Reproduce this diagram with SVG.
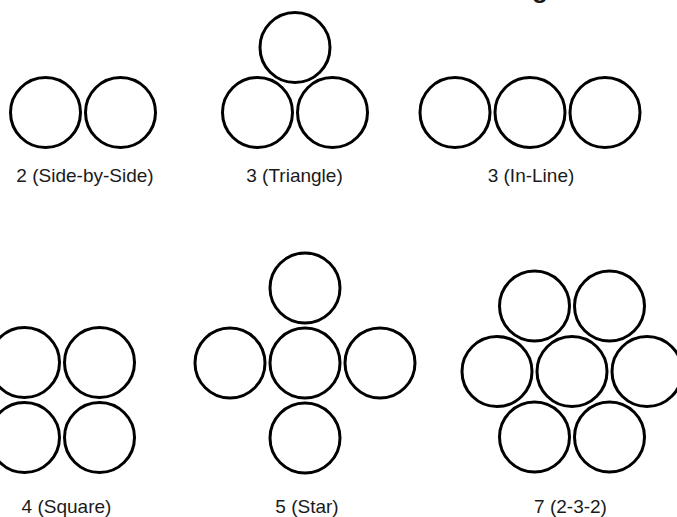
<svg xmlns="http://www.w3.org/2000/svg" width="677" height="517" viewBox="0 0 677 517">
  <style>
    .ring { fill: none; stroke: #000; stroke-width: 3; }
    .label { font-family: "Liberation Sans", Arial, Helvetica, sans-serif; font-size: 19px; fill: #1a1a1a; text-anchor: middle; }
    .title { font-family: "Liberation Sans", Arial, Helvetica, sans-serif; font-size: 26px; font-weight: bold; fill: #1a1a1a; }
  </style>
  <defs>
    <circle id="c" r="35" class="ring"/>
  </defs>
  <rect width="677" height="517" fill="#fff"/>

  <!-- title, mostly above the top edge -->
  <text class="title" x="532" y="-2">g</text>

  <!-- 2 side-by-side -->
  <g id="side-by-side">
    <use href="#c" x="45.5" y="112.5"/>
    <use href="#c" x="120.5" y="112.5"/>
    <text class="label" x="85" y="181.5">2 (Side-by-Side)</text>
  </g>

  <!-- 3 triangle -->
  <g id="triangle">
    <use href="#c" x="295" y="47.5"/>
    <use href="#c" x="257.5" y="112.5"/>
    <use href="#c" x="332.5" y="112.5"/>
    <text class="label" x="294.5" y="181.5">3 (Triangle)</text>
  </g>

  <!-- 3 in-line -->
  <g id="in-line">
    <use href="#c" x="455" y="112.5"/>
    <use href="#c" x="530" y="112.5"/>
    <use href="#c" x="605" y="112.5"/>
    <text class="label" x="531" y="181.5">3 (In-Line)</text>
  </g>

  <!-- 4 square -->
  <g id="square">
    <use href="#c" x="24.5" y="362.5"/>
    <use href="#c" x="99.5" y="362.5"/>
    <use href="#c" x="24.5" y="437.5"/>
    <use href="#c" x="99.5" y="437.5"/>
    <text class="label" x="66.5" y="513">4 (Square)</text>
  </g>

  <!-- 5 star -->
  <g id="star">
    <use href="#c" x="305" y="288"/>
    <use href="#c" x="230" y="363"/>
    <use href="#c" x="305" y="363"/>
    <use href="#c" x="380" y="363"/>
    <use href="#c" x="305" y="438"/>
    <text class="label" x="307" y="513">5 (Star)</text>
  </g>

  <!-- 7 hex 2-3-2 -->
  <g id="hex-2-3-2">
    <use href="#c" x="534.5" y="306"/>
    <use href="#c" x="609.5" y="306"/>
    <use href="#c" x="497" y="371.5"/>
    <use href="#c" x="572" y="371.5"/>
    <use href="#c" x="647" y="371.5"/>
    <use href="#c" x="534.5" y="437"/>
    <use href="#c" x="609.5" y="437"/>
    <text class="label" x="570.5" y="513">7 (2-3-2)</text>
  </g>
</svg>
